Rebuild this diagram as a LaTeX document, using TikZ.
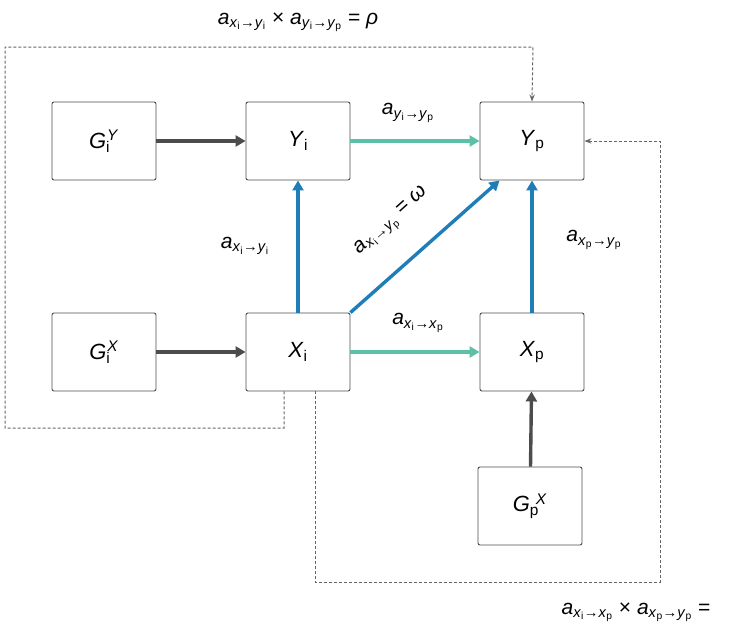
\documentclass[tikz,border=0pt]{standalone}
\usepackage{fontspec}
\setmainfont{Liberation Sans}
\usetikzlibrary{arrows.meta}
\newcommand\vi[1]{\textit{#1}}
\newcommand\sbs[1]{\textsubscript{#1}}
\newcommand\arr[4]{\vi{a}\sbs{\vi{#1}\sbs{#2}→\vi{#3}\sbs{#4}}}
\definecolor{tl}{HTML}{5CBFA8}\definecolor{bl}{HTML}{1F7DB8}
\begin{document}
\begin{tikzpicture}[x=1pt,y=-1pt,
 box/.style={draw=black!70,line width=0.9pt,rounded corners=2pt,minimum width=104pt,minimum height=78pt,font=\fontsize{22}{26}\selectfont},
 lab/.style={font=\fontsize{21}{24}\selectfont},
 garr/.style={draw=black!70,line width=3.4pt,-{Triangle[length=10pt,width=11pt]}},
 tarr/.style={draw=tl,line width=3.4pt,-{Triangle[length=10pt,width=11pt]}},
 barr/.style={draw=bl,line width=3.4pt,-{Triangle[length=10pt,width=11pt]}},
 dline/.style={draw=black!60,dash pattern=on 3pt off 2pt,line width=1pt,-{Stealth[length=7pt]}}]
\useasboundingbox (0,0) rectangle (732,633);
\node[box] (GiY) at (104,141) {\vi{G}\sbs{i}\kern-3pt\textsuperscript{\vi{Y}}};
\node[box] (Yi) at (298,141) {\vi{Y}\sbs{i}};
\node[box] (Yp) at (532,141) {\vi{Y}\sbs{p}};
\node[box] (GiX) at (104,352) {\vi{G}\sbs{i}\kern-3pt\textsuperscript{\vi{X}}};
\node[box] (Xi) at (298,352) {\vi{X}\sbs{i}};
\node[box] (Xp) at (532,352) {\vi{X}\sbs{p}};
\node[box] (GpX) at (530,506) {\vi{G}\sbs{p}\kern-3pt\textsuperscript{\vi{X}}};
\draw[garr] (GiY) -- (Yi);
\draw[garr] (GiX) -- (Xi);
\draw[garr] (GpX) -- (Xp);
\draw[tarr] (Yi) -- (Yp);
\draw[tarr] (Xi) -- (Xp);
\draw[barr] (Xi) -- (Yi);
\draw[barr] (Xp) -- (Yp);
\draw[barr] (Xi.north east) -- ([xshift=20pt]Yp.south west);
\coordinate (c0) at ([xshift=-14pt]Xi.south); \coordinate (c1) at (284,428); \coordinate (c2) at (5,428); \coordinate (c3) at (5,47); \coordinate (c4) at (533,47);
\draw[dline] (c0) -- (c1) -- (c2) -- (c3) -- (c4) -- (Yp.north);
\coordinate (d0) at ([xshift=17pt]Xi.south); \coordinate (d1) at (315,582); \coordinate (d2) at (660,582); \coordinate (d3) at (660,141);
\draw[dline] (d0) -- (d1) -- (d2) -- (d3) -- (Yp.east);
\node[lab] (l1) at (298,22) {\arr{x}{i}{y}{i} × \arr{y}{i}{y}{p} = \vi{ρ}};
\node[lab] (l2) at (408,113) {\arr{y}{i}{y}{p}};
\node[lab] (l3) at (245,246) {\arr{x}{i}{y}{i}};
\node[lab,rotate=42] (l4) at (392,222) {\arr{x}{i}{y}{p} = \vi{ω}};
\node[lab] (l5) at (594,240) {\arr{x}{p}{y}{p}};
\node[lab] (l6) at (418,323) {\arr{x}{i}{x}{p}};
\node[lab] (l7) at (636,612) {\arr{x}{i}{x}{p} × \arr{x}{p}{y}{p} =};
\end{tikzpicture}
\end{document}
